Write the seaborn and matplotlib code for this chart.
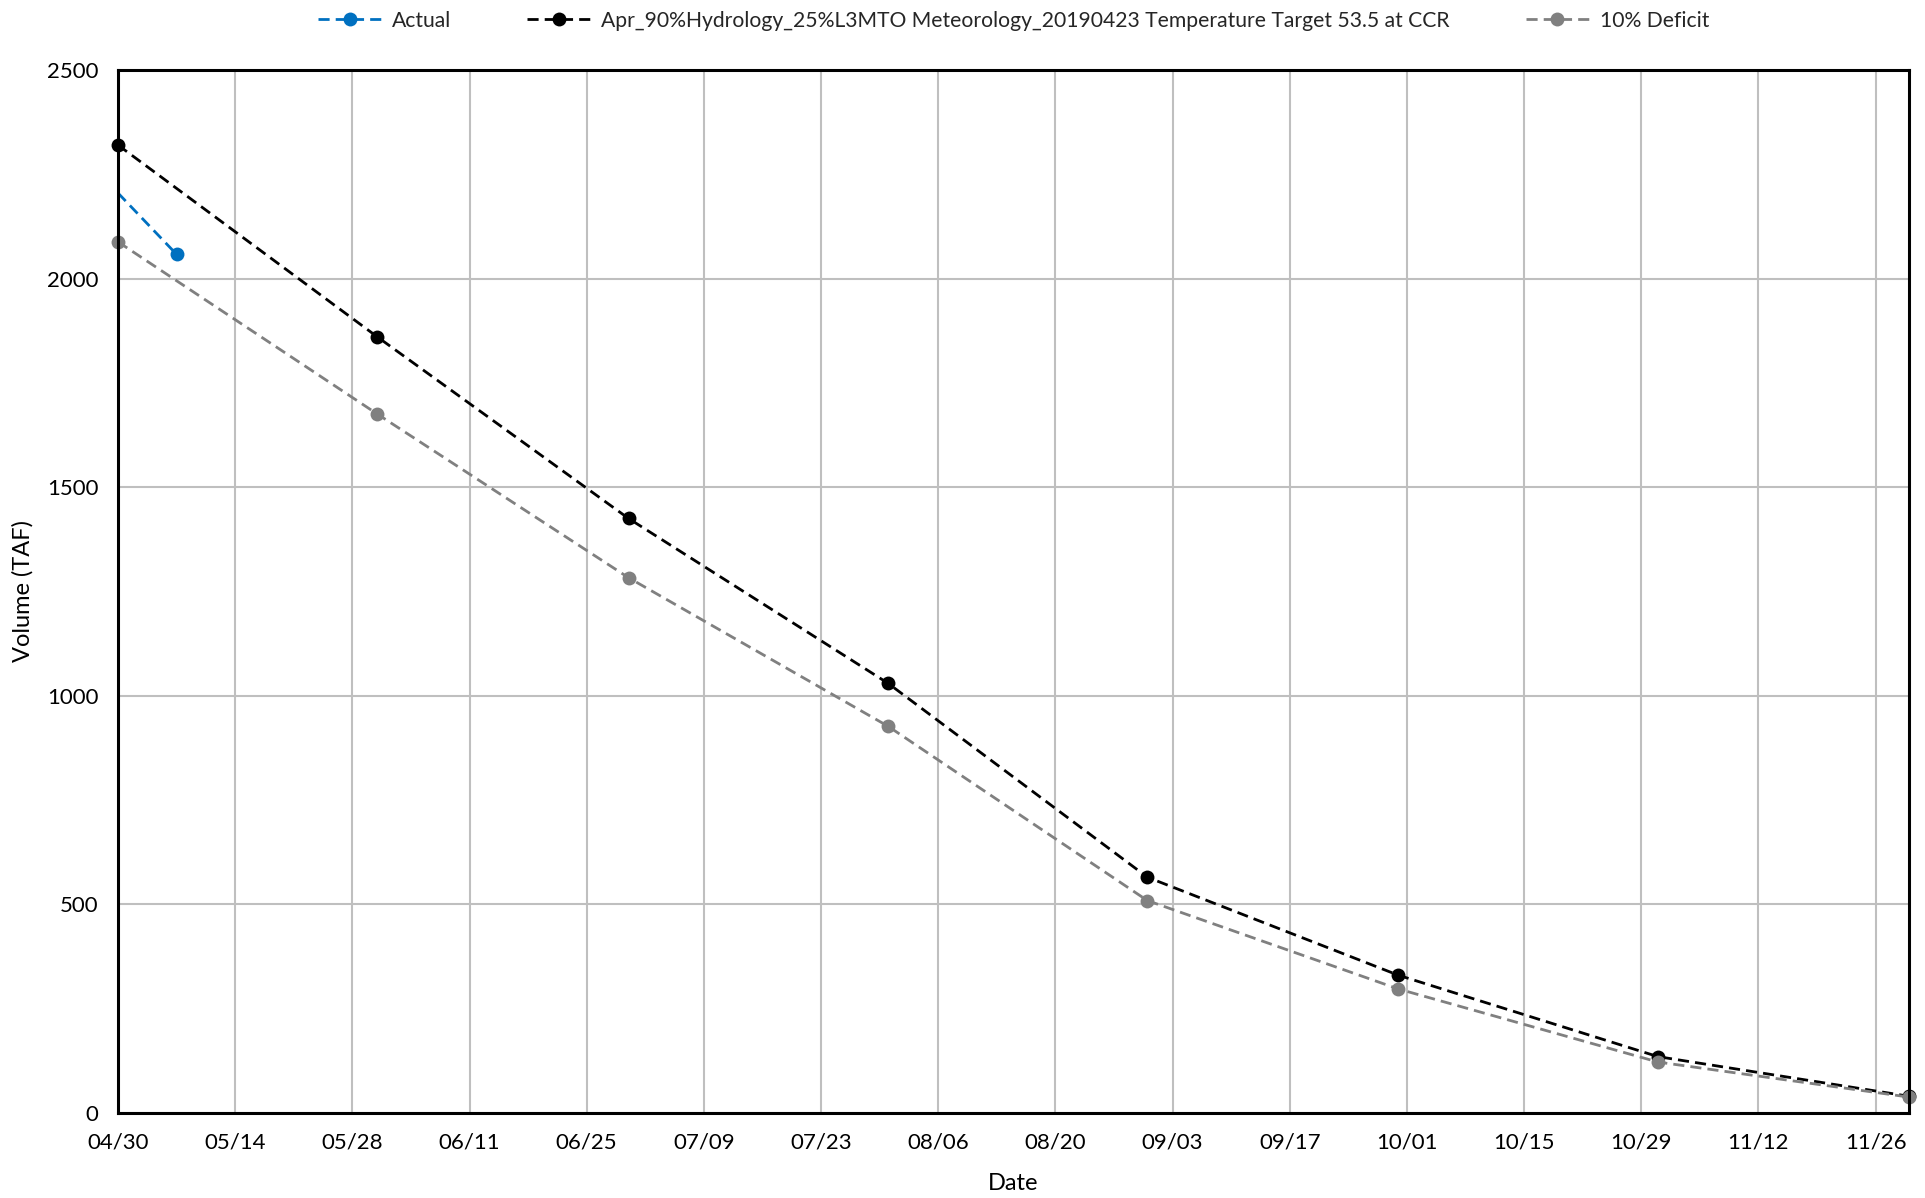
import matplotlib
matplotlib.use("Agg")
import matplotlib.pyplot as plt
import matplotlib.dates as mdates
import pandas as pd
import seaborn as sns

# values (TAF)
actual_dates = ["2019-04-30", "2019-05-07"]
actual_vals = [2205, 2058]

forecast_dates = ["2019-04-30", "2019-05-31", "2019-06-30", "2019-07-31",
                  "2019-08-31", "2019-09-30", "2019-10-31", "2019-11-30"]
forecast_vals = [2320, 1860, 1425, 1030, 565, 330, 135, 40]
deficit_vals = [2088, 1675, 1283, 927, 509, 297, 122, 38]

forecast_name = "Apr_90%Hydrology_25%L3MTO Meteorology_20190423 Temperature Target 53.5 at CCR"

sns.set_theme(style="white")
plt.rcParams["font.family"] = ["Lato", "DejaVu Sans"]

fig = plt.figure(figsize=(19.25, 11.98), dpi=100)
ax = fig.add_axes([0.0613, 0.071, 0.9304, 0.8706])

dash = (4.0, 2.2)
lw = 2.0
sns.lineplot(x=pd.to_datetime(actual_dates), y=actual_vals, ax=ax, color="#0070C0",
             linewidth=lw, label="Actual", marker="o", markersize=10, markevery=[1])
ax.lines[-1].set_dashes(dash)
sns.lineplot(x=pd.to_datetime(forecast_dates), y=forecast_vals, ax=ax, color="black",
             linewidth=lw, label=forecast_name, marker="o", markersize=10)
ax.lines[-1].set_dashes(dash)
sns.lineplot(x=pd.to_datetime(forecast_dates), y=deficit_vals, ax=ax, color="#808080",
             linewidth=lw, label="10% Deficit", marker="o", markersize=10)
ax.lines[-1].set_dashes(dash)
for ln in ax.lines:
    ln.set_markeredgewidth(0)
    ln.set_clip_on(False)

ax.set_xlim(pd.Timestamp("2019-04-30"), pd.Timestamp("2019-11-30"))
ax.set_ylim(0, 2500)
ax.set_xticks(pd.date_range("2019-04-30", "2019-11-30", freq="14D"))
ax.xaxis.set_major_formatter(mdates.DateFormatter("%m/%d"))
ax.set_yticks(range(0, 2501, 500))
ax.grid(True, color="#BFBFBF", linewidth=1.5)
ax.set_axisbelow(True)
for s in ax.spines.values():
    s.set_color("black")
    s.set_linewidth(2.2)
ax.tick_params(length=0, labelsize=16, labelcolor="black", pad=14)
ax.set_xlabel("Date", fontsize=17, color="black", labelpad=15)
ax.set_ylabel("Volume (TAF)", fontsize=17, color="black", labelpad=10)

h, l = ax.get_legend_handles_labels()
ax.legend(h, l, loc="upper center", bbox_to_anchor=(0.5, 1.075), ncol=3, frameon=False,
          fontsize=15.2, handlelength=3.0, columnspacing=3.6, handletextpad=0.5)

fig.savefig("out.png", dpi=100)
